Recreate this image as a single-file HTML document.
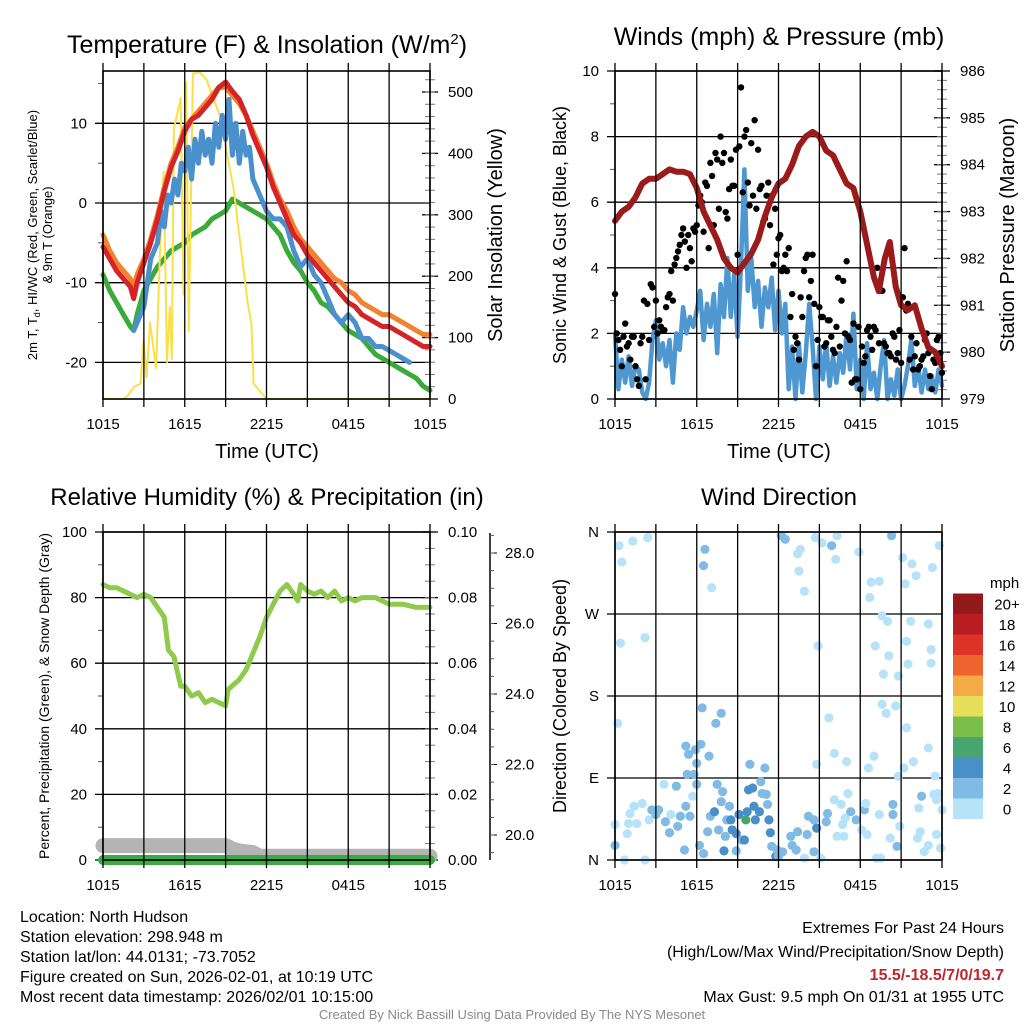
<!DOCTYPE html>
<html><head><meta charset="utf-8">
<style>
html,body{margin:0;padding:0;background:#fff;}
svg{display:block;font-family:"Liberation Sans",sans-serif;}
.n{font-family:"Liberation Sans Narrow","Liberation Sans",sans-serif;}
</style></head>
<body>
<svg id="root" width="1024" height="1024" viewBox="0 0 1024 1024" xmlns="http://www.w3.org/2000/svg">
<g fill="#000">
<text x="267" y="53" font-size="25" text-anchor="middle">Temperature (F) &amp; Insolation (W/m<tspan dy="-9" font-size="15">2</tspan><tspan dy="9">)</tspan></text>
<text x="779" y="45" font-size="25" text-anchor="middle">Winds (mph) &amp; Pressure (mb)</text>
<text x="267" y="505" font-size="24" text-anchor="middle">Relative Humidity (%) &amp; Precipitation (in)</text>
<text x="779" y="505" font-size="24" text-anchor="middle">Wind Direction</text>
<text x="267" y="458" font-size="20" text-anchor="middle">Time (UTC)</text>
<text x="779" y="458" font-size="20" text-anchor="middle">Time (UTC)</text>
<text transform="translate(37,235) rotate(-90)" font-size="13" text-anchor="middle">2m T, T<tspan dy="3" font-size="9">d</tspan><tspan dy="-3">, HI/WC (Red, Green, Scarlet/Blue)</tspan></text>
<text transform="translate(52,235) rotate(-90)" font-size="13" text-anchor="middle">&amp; 9m T (Orange)</text>
<text transform="translate(502,235) rotate(-90)" font-size="20" text-anchor="middle">Solar Insolation (Yellow)</text>
<text transform="translate(566,235) rotate(-90)" font-size="18" text-anchor="middle">Sonic Wind &amp; Gust (Blue, Black)</text>
<text transform="translate(1014,235) rotate(-90)" font-size="20" text-anchor="middle">Station Pressure (Maroon)</text>
<text transform="translate(49,696) rotate(-90)" font-size="14" text-anchor="middle">Percent, Precipitation (Green), &amp; Snow Depth (Gray)</text>
<text transform="translate(566,696) rotate(-90)" font-size="18" text-anchor="middle">Direction (Colored By Speed)</text>
</g>
<g class="n" font-size="16">
<text x="20" y="922">Location: North Hudson</text>
<text x="20" y="942">Station elevation: 298.948 m</text>
<text x="20" y="962">Station lat/lon: 44.0131; -73.7052</text>
<text x="20" y="982">Figure created on Sun, 2026-02-01, at 10:19 UTC</text>
<text x="20" y="1002">Most recent data timestamp: 2026/02/01 10:15:00</text>
<text x="1004" y="933" text-anchor="end">Extremes For Past 24 Hours</text>
<text x="1004" y="957" text-anchor="end">(High/Low/Max Wind/Precipitation/Snow Depth)</text>
<text x="1004" y="980" text-anchor="end" fill="#c0262d" font-weight="bold">15.5/-18.5/7/0/19.7</text>
<text x="1004" y="1002" text-anchor="end">Max Gust: 9.5 mph On 01/31 at 1955 UTC</text>
<text x="512" y="1019" text-anchor="middle" font-size="13" fill="#8a8a8a">Created By Nick Bassill Using Data Provided By The NYS Mesonet</text>
</g>
</svg>
<script>
// ---------- data ----------
const timeLabels = ["1015","1615","2215","0415","1015"];
const tempT = [0,0.5,1,1.5,2,2.25,2.5,3,3.5,4,4.5,5,5.5,6,6.5,7,7.5,8,8.5,9,9.5,10,10.5,11,11.5,12,12.5,13,13.5,14,14.5,15,15.5,16,16.5,17,17.5,18,18.5,19,19.5,20,20.5,21,21.5,22,22.5,23,23.5,24];
const tempRed = [-5.5,-7,-8.5,-9.5,-10.5,-12,-10,-7.5,-5,-2,1.5,4.5,6.5,9,10.5,11,12,13,14.5,15.2,14,13,11,8.5,6.5,4.5,2,0,-2,-4,-5,-6.5,-7.5,-8.5,-9.5,-10.5,-11.5,-12.5,-13,-14,-14.5,-15,-15.5,-15.5,-16,-16.5,-17,-17.5,-18,-18];
const tempOrange = [-4,-6,-7.5,-8.5,-9.5,-10.5,-9,-7,-4.5,-1.5,2,5,7,9.5,10.5,11.5,12.5,13.5,14.5,14.5,13.5,12.5,11,9,7,5,2.5,0.5,-1,-3,-4.5,-5.5,-6.5,-7.5,-8.5,-9.5,-10,-11,-11.5,-12.5,-13,-13.5,-14,-14,-14.5,-15,-15.5,-16,-16.5,-16.5];
const tempGreen = [-9,-11,-12.5,-14,-15.5,-16,-14,-11,-9.5,-8,-7,-6,-5.5,-5,-4,-3.5,-3,-2,-1.5,-1,0.5,0,-0.5,-1,-1.5,-2,-3,-4,-6,-7.5,-8.5,-10,-11,-12.5,-13,-14,-15,-16,-16.5,-17,-18,-19,-19.5,-20,-20.5,-21,-21.5,-22,-23,-23.5];
const blueT = [2.25,2.5,3,3.5,4,4.25,4.5,4.75,5,5.25,5.5,5.75,6,6.25,6.5,6.75,7,7.25,7.5,7.75,8,8.25,8.5,8.75,9,9.25,9.5,9.75,10,10.25,10.5,10.75,11,11.5,12,12.5,13,13.5,14,14.5,15,15.5,16,16.5,17,17.5,18,18.5,19,19.5,20,20.5,21,21.5,22,22.5];
const tempBlue = [-16,-15,-13,-7,-5,-1,-3,1,0,3,1,5,4,7,3,8,5,9,6,8,5,10,7,11,8,13,6,10,5,9,6,7,3,1,-1,-2,-2,-3,-6,-8,-7,-9,-10,-12,-14,-15,-14,-15,-17,-17,-18,-18,-18.5,-19,-19.5,-20];
const solarT = [0,1.5,1.8,2.3,2.75,2.98,3.2,3.45,3.9,4.2,4.45,4.7,4.9,5.05,5.2,5.7,5.9,6.1,6.3,6.6,7.1,7.6,8.6,9.6,10.6,10.9,11.05,12,24];
const solarW = [0,0,5,20,25,95,35,125,50,250,370,60,150,65,440,490,170,515,110,530,532,520,460,340,160,120,25,0,0];
const windVals = [2.0,0.3,1.2,0.5,1.3,0.4,1.0,0.9,0.2, 0.0,0.5,1.8,2.4, 1.2,1.7,1.0,1.8, 0.5,2.0,1.5,2.8, 2.0,2.5,2.2,2.7, 3.3,1.8,2.9,2.2, 3.2,1.4,3.5,2.5, 4.3,2.5,3.8,1.9, 4.1,7.0,3.3,4.3, 2.8,3.6,2.2,3.4, 2.8,3.7,2.1,3.3, 2.0,2.9,0.3,1.6, 0.0,1.7,0.2,1.4, 2.9,1.6,0.0,1.6, 0.6,1.7,0.4,1.3, 0.5,1.4,0.8,2.0, 0.9,2.6,0.3,1.2, 0.0,1.7,0.3,0.8, 0.0,1.0,1.8,0.0, 0.6,0.1,0.9,0.0, 0.4,1.0,1.8,0.4, 1.0,0.2,0.9,0.3, 0.7,0.2,0.9,0.4];
const gustVals = [3.2,1.8,1.0,2.3,1.7,1.9,1.0,0.4,1.9, 0.6,1.8,3.4,3.0, 2.4,2.1,2.8,3.2, 3.0,4.3,4.7,5.2, 4.0,4.6,5.2,5.3, 6.2,5.1,6.5,7.2, 5.3,7.3,8.0,7.5, 5.5,7.3,6.5,4.4, 9.5,8.0,6.6,7.8, 8.5,7.6,6.5,5.5, 6.6,6.2,5.8,4.9, 3.9,4.4,4.6,3.2, 1.9,1.2,2.5,4.3, 3.1,4.4,1.0,2.8, 2.5,1.7,2.4,1.5, 2.2,1.6,3.6,4.2, 1.8,2.3,0.6,0.3, 1.1,2.1,1.9,2.2, 4.0,3.3,1.7,1.4, 1.3,1.9,1.4,1.1, 4.6,2.9,1.9,1.3, 0.9,1.2,1.8,1.4, 0.3,1.1,1.9,0.8];
const gustVals2 = [2.0,1.5,1.9,1.6,1.2,1.9,0.6,1.7, 3.0,2.9,3.5,2.2, 2.0,2.2,2.1,3.1, 3.9,4.1,4.5,5.0, 4.8,5.0,4.2,5.1, 5.9,6.0,6.6,4.6, 6.8,7.5,5.8,7.2, 5.7,6.4,6.5,7.6, 7.7,6.3,8.2,5.9, 6.2,5.8,6.4,5.4, 6.2,5.3,4.1,4.4, 5.0,4.0,3.9,2.5, 1.5,1.7,3.1,3.9, 4.4,3.6,2.9,1.8, 2.5,1.6,2.4,1.9, 1.4,3.7,3.0,2.0, 1.9,0.5,0.6,2.2, 1.6,1.3,2.2,1.5, 2.1,1.7,3.3,1.6, 1.4,2.0,1.2,2.1, 3.1,2.7,1.2,0.9, 1.7,1.0,1.3,2.0, 0.7,1.2,1.8,1.4];
const presT = [0,0.5,1,1.5,2,2.5,3,3.5,4,4.5,5,5.5,6,6.5,7,7.5,8,8.5,9,9.5,10,10.5,11,11.5,12,12.5,13,13.5,14,14.5,15,15.5,16,16.5,17,17.5,18,18.5,19,19.36,19.8,20.17,20.6,21,21.5,22,22.5,23,23.5,24];
const presVals = [982.8,983.0,983.1,983.3,983.6,983.7,983.7,983.8,983.9,983.85,983.85,983.8,983.5,983.0,982.7,982.4,982.0,981.8,981.7,981.9,982.1,982.4,982.9,983.3,983.6,983.7,984.0,984.4,984.6,984.7,984.6,984.3,984.2,983.9,983.6,983.5,983.0,982.3,981.6,981.3,982.0,982.35,981.4,981.0,980.9,981.0,980.5,980.1,980.0,979.7];
const rhT = [0,0.5,1,1.5,2,2.5,3,3.5,4,4.5,4.8,5.2,5.7,6,6.5,7,7.5,8,8.5,9,9.2,10,10.5,11,11.5,12,12.5,13,13.5,14,14.3,14.5,15,15.5,16,16.5,17,17.5,18,18.5,19,20,21,22,23,24];
const rhVals = [84,83,83,82,81,80,81,80,77,74,64,62,53,53,50,51,48,49,48,47,52,55,58,63,68,74,78,82,84,81,79,84,82,81,82,80,82,79,80,79,80,80,78,78,77,77];
const precipT = [0,24];
const precipVals = [0,0];
const snowT = [0,9,9.5,10,11,11.5,12,24];
const snowVals = [19.7,19.7,19.6,19.55,19.5,19.4,19.4,19.4];
const dirT = [0,0,0.3,0.5,0.4,0.2,0.7,1.1,1.0,1.4,0.9,1.6,2.0,2.5,2.2,2.4,1.3,2.2,2.7,3.0,3.2,3.6,3.7,4.0,4.1,4.5,4.6,4.8,5.1,5.2,5.2,5.4,5.3,5.5,5.7,5.8,5.9,6.0,6.0,6.2,6.3,6.4,6.5,6.6,6.5,6.8,6.9,7.1,7.0,7.3,7.4,7.5,7.6,7.8,7.9,7.8,8.0,8.1,8.2,8.4,8.5,8.6,8.9,8.9,9.1,9.3,9.5,9.6,9.7,9.8,9.9,10.1,10.2,10.3,10.6,10.7,10.8,11.0,11.1,11.2,11.3,11.4,11.5,11.8,11.9,12.0,12.2,12.5,12.3,12.9,13.0,13.3,13.4,13.5,13.6,13.4,13.9,13.9,14.1,14.2,14.6,14.6,14.7,14.8,14.9,14.8,15.1,15.2,15.5,15.6,15.7,15.9,16.1,16.1,16.2,16.3,16.3,16.6,16.7,16.8,16.9,17.0,17.1,17.3,17.7,17.9,18.1,18.3,18.4,18.5,18.6,18.7,18.8,19.0,19.1,19.2,19.4,19.4,19.5,19.6,19.6,19.7,19.9,20.0,20.1,20.2,20.3,20.4,20.4,20.6,20.7,20.8,20.8,20.9,21.1,21.2,21.3,21.4,21.4,21.5,21.7,21.8,21.9,22.1,22.2,22.3,22.4,22.5,22.7,23.0,23.0,23.0,23.2,23.2,23.3,23.4,23.5,23.6,23.6,23.8,23.9,24.0,23.7];
const dirDeg = [39,16,345,327,238,150,0,51,40,59,29,40,62,44,0,354,350,244,55,50,55,83,42,30,50,81,37,48,11,59,125,116,94,48,70,94,121,106,83,16,127,167,7,341,323,31,114,299,48,53,150,83,33,64,75,161,10,26,44,59,44,33,29,10,50,22,22,44,53,77,105,79,59,44,53,86,73,101,72,61,44,30,15,4,11,4,356,352,9,26,16,11,31,317,341,336,295,2,28,48,44,9,354,105,235,35,2,348,42,51,156,345,66,117,330,356,26,61,39,26,46,108,73,53,44,338,33,55,62,28,101,288,305,114,235,2,306,50,2,268,171,204,161,262,224,24,356,61,50,169,15,92,202,37,332,101,303,240,145,215,262,325,108,312,24,57,31,70,9,16,259,123,231,216,321,72,92,28,66,345,13,55,73];
const dirSpd = [1,3,1,1,1,1,1,1,1,1,1,1,1,1,1,1,1,1,3,3,3,1,3,3,1,3,3,3,3,3,3,3,3,3,1,3,3,3,3,3,3,3,3,3,3,3,3,1,3,5,3,3,3,3,3,3,5,3,3,3,5,5,5,3,5,3,5,7,5,5,3,5,5,5,5,3,3,3,3,3,5,5,3,5,3,3,3,3,3,3,3,3,3,1,1,1,1,1,3,3,3,3,1,1,1,5,1,1,3,3,1,3,1,1,1,1,1,1,1,1,1,1,1,3,3,1,1,3,1,1,1,1,1,1,1,1,1,1,1,1,1,1,1,1,1,1,3,3,3,1,3,1,1,1,1,1,1,1,1,1,1,1,1,1,1,1,1,3,1,1,1,1,1,1,1,1,1,1,1,1,1,1,1,1,1];
const cbLabels = ["0","2","4","6","8","10","12","14","16","18","20+"];
const cbColors = ["#b6e3f8","#80bbe5","#4a8fc7","#48a56f","#7bbf4b","#e5df5b","#f5aa48","#ee6430","#dc3429","#b81d24","#921a1d"];

// ---------- helpers ----------
const NS="http://www.w3.org/2000/svg";
const root=document.getElementById('root');
function mk(tag,attrs,parent){const e=document.createElementNS(NS,tag);for(const k in attrs)e.setAttribute(k,attrs[k]);(parent||root).appendChild(e);return e;}
function txt(s,attrs,parent){const e=mk('text',attrs,parent);e.textContent=s;return e;}
function xs(x0){return t=>x0+t*327/24;}
function ys(y0,y1,v0,v1){return v=>y0+(v-v0)*(y1-y0)/(v1-v0);}
function pathFrom(T,V,X,Y){return T.map((t,i)=>(i?'L':'M')+X(t).toFixed(1)+' '+Y(V[i]).toFixed(1)).join(' ');}
const qT = windVals.map((v,i)=>i*0.25);
const qT2 = gustVals2.map((v,i)=>0.125+i*0.25);

function frame(g,x0,top,bot){
  const X=xs(x0);
  for(let i=0;i<=8;i++){
    const x=X(i*3);
    const l=mk('line',{x1:x,y1:top-8,x2:x,y2:bot+8,stroke:'#000','stroke-width':1.3},g);
    
    
  }
  for(let i=0;i<5;i++){
    const t=txt(timeLabels[i],{x:X(i*6),y:bot+30,'font-size':15,'text-anchor':'middle'},g);
    
    
  }
  const r=mk('rect',{x:x0,y:top,width:327,height:bot-top,fill:'none',stroke:'#000','stroke-width':1.6},g);
  
  
}
function leftAxis(g,x0,Y,ticks,labels,minor){
  ticks.forEach((v,i)=>{
    const y=Y(v);
    const l=mk('line',{x1:x0-8,y1:y,x2:x0+327,y2:y,stroke:'#000','stroke-width':1.3},g);
    
    
    const t=txt(labels[i],{x:x0-16,y:y+5,'font-size':15,'text-anchor':'end'},g);
    
    
  });
  minor.forEach(v=>{const l=mk('line',{x1:x0-5,y1:Y(v),x2:x0,y2:Y(v),stroke:'#555','stroke-width':1},g);
    
    });
}
function rightAxis(g,x0,Y,ticks,labels,minor){
  const xr=x0+327;
  ticks.forEach((v,i)=>{
    const y=Y(v);
    const l=mk('line',{x1:xr-8,y1:y,x2:xr+8,y2:y,stroke:'#000','stroke-width':1.3},g);
    
    
    const t=txt(labels[i],{x:xr+18,y:y+5,'font-size':15},g);
    
    
  });
  minor.forEach(v=>{const l=mk('line',{x1:xr-5,y1:Y(v),x2:xr+5,y2:Y(v),stroke:'#777','stroke-width':1},g);
    
    });
}
function line(g,T,V,X,Y,color,w,name){
  const p=mk('path',{d:pathFrom(T,V,X,Y),fill:'none',stroke:color,'stroke-width':w,'stroke-linejoin':'round','stroke-linecap':'round'},g);
  
  
  return p;
}
function range(a,b,s){const r=[];for(let v=a;v<=b+1e-9;v+=s)r.push(+v.toFixed(4));return r;}

// ---------- panel 1: temperature ----------
{
  const g=mk('g',{});
  
  
  const X=xs(103), Y=ys(203,123.3,0,10), S=ys(399,92,0,500);
  leftAxis(g,103,Y,[10,0,-10,-20],["10","0","-10","-20"],[15,5,-5,-15]);
  rightAxis(g,103,S,[0,100,200,300,400,500],["0","100","200","300","400","500"],range(20,520,20));
  line(g,tempT,tempGreen,X,Y,'#3aaa3a',5,'dewpoint-line');
  line(g,solarT,solarW,X,S,'#f9e04b',2,'insolation-line');
  line(g,tempT,tempOrange,X,Y,'#f4812f',5,'temp-9m-line');
  line(g,blueT,tempBlue,X,Y,'#4a90cd',5,'windchill-line');
  line(g,tempT,tempRed,X,Y,'#d42427',5,'temp-2m-line');
  frame(g,103,71,399);
}
// ---------- panel 2: winds ----------
{
  const g=mk('g',{});
  
  
  const X=xs(615), Y=ys(399,71,0,10), P=ys(399,71,979,986);
  leftAxis(g,615,Y,[0,2,4,6,8,10],["0","2","4","6","8","10"],[1,3,5,7,9]);
  rightAxis(g,615,P,[979,980,981,982,983,984,985,986],["979","980","981","982","983","984","985","986"],range(979.2,985.8,0.2));
  line(g,qT,windVals,X,Y,'#4f97d1',4.5,'sonic-wind-line');
  gustVals.forEach((v,i)=>{
    const c=mk('circle',{cx:X(qT[i]),cy:Y(v),r:3.2,fill:'#000'},g);
    
    
  });
  gustVals2.forEach((v,i)=>{
    const c=mk('circle',{cx:X(qT2[i]),cy:Y(v),r:3.2,fill:'#000'},g);
    
    
  });
  line(g,presT,presVals,X,P,'#9b1a1a',6,'pressure-line');
  frame(g,615,71,399);
}
// ---------- panel 3: RH ----------
{
  const g=mk('g',{});
  
  
  const X=xs(103), Y=ys(860,532,0,100), PR=ys(860,532,0,0.1), SN=ys(835,553,20,28);
  leftAxis(g,103,Y,[0,20,40,60,80,100],["0","20","40","60","80","100"],[10,30,50,70,90]);
  rightAxis(g,103,PR,[0,0.02,0.04,0.06,0.08,0.1],["0.00","0.02","0.04","0.06","0.08","0.10"],range(0.005,0.095,0.005));
  const ax=mk('line',{x1:490,y1:533,x2:490,y2:860,stroke:'#000','stroke-width':1.5},g);
  
  
  [20,22,24,26,28].forEach(v=>{
    const l=mk('line',{x1:490,y1:SN(v),x2:497,y2:SN(v),stroke:'#000'},g);
    
    
    const t=txt(v.toFixed(1),{x:505,y:SN(v)+5,'font-size':15},g);
    
    
  });
  range(19.5,28.5,0.5).forEach(v=>{const l=mk('line',{x1:490,y1:SN(v),x2:494,y2:SN(v),stroke:'#555'},g);
    
    });
  line(g,rhT,rhVals,X,Y,'#8fca4d',5,'rh-line');
  line(g,snowT,snowVals,X,SN,'#b4b4b4',15,'snow-depth-line');
  line(g,precipT,precipVals,X,PR,'#3aab43',10,'precip-line');
  frame(g,103,532,860);
}
// ---------- panel 4: direction ----------
{
  const g=mk('g',{});
  
  
  const X=xs(615), Y=ys(860,532,0,360);
  leftAxis(g,615,Y,[0,90,180,270,360],["N","E","S","W","N"],[]);
  dirT.forEach((t,i)=>{
    const k=Math.min(10,Math.floor(dirSpd[i]/2));
    const c=mk('circle',{cx:X(t),cy:Y(dirDeg[i]),r:4.6,fill:cbColors[k]},g);
    
    
  });
  frame(g,615,532,860);
  const cb=mk('g',{},g);
  
  
  const t0=txt('mph',{x:990,y:588,'font-size':15},cb);
  
  
  cbColors.forEach((c,i)=>{
    const yTop=819-(i+1)*20.5;
    const r=mk('rect',{x:953,y:yTop,width:30,height:20.5,fill:c},cb);
    
    
    const l=txt(cbLabels[i],{x:1007,y:yTop+16,'font-size':15,'text-anchor':'middle'},cb);
    
    
  });
}
</script>
</body></html>
